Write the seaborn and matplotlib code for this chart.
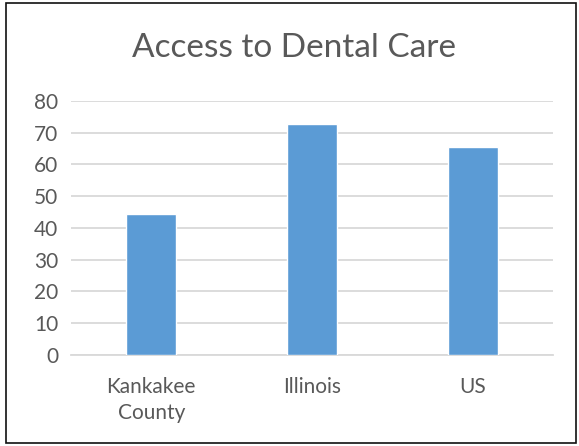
import matplotlib
matplotlib.use("Agg")
import matplotlib.pyplot as plt
import seaborn as sns
import pandas as pd
from matplotlib.patches import Rectangle

# data
regions = ["Kankakee\nCounty", "Illinois", "US"]
access = [44.3, 72.6, 65.5]
y_ticks = [0, 10, 20, 30, 40, 50, 60, 70, 80]

df = pd.DataFrame({"Region": regions, "Access": access})

sns.set_theme(style="white")
plt.rcParams["font.family"] = ["Lato", "DejaVu Sans"]

text_color = "#595959"
grid_color = "#d9d9d9"
bar_color = "#5b9bd5"

fig = plt.figure(figsize=(5.79, 4.46), dpi=100)
ax = fig.add_axes([0.1226, 0.204, 0.8324, 0.570])

sns.barplot(data=df, x="Region", y="Access", color=bar_color, width=0.31,
            saturation=1, ax=ax, zorder=3)

ax.set_ylim(0, 80)
ax.set_xlim(-0.5, 2.5)
ax.set_yticks(y_ticks)
ax.yaxis.grid(True, color=grid_color, linewidth=1.3, zorder=0)
ax.set_axisbelow(True)
for side in ["top", "right", "left"]:
    ax.spines[side].set_visible(False)
ax.spines["bottom"].set_color(grid_color)
ax.spines["bottom"].set_linewidth(1.3)
ax.tick_params(axis="both", length=0, labelsize=15, colors=text_color)
ax.tick_params(axis="x", pad=16)
ax.tick_params(axis="y", pad=9)
for lbl in ax.get_xticklabels():
    lbl.set_linespacing(1.35)
ax.set_xlabel("")
ax.set_ylabel("")

fig.text(0.507, 0.893, "Access to Dental Care", ha="center", va="center",
         fontsize=24, color=text_color)

# chart border
fig.patches.append(Rectangle((0.011, 0.006), 0.983, 0.988, transform=fig.transFigure,
                             fill=False, edgecolor="#111111", linewidth=1.2))

fig.savefig("out.png", dpi=100)
